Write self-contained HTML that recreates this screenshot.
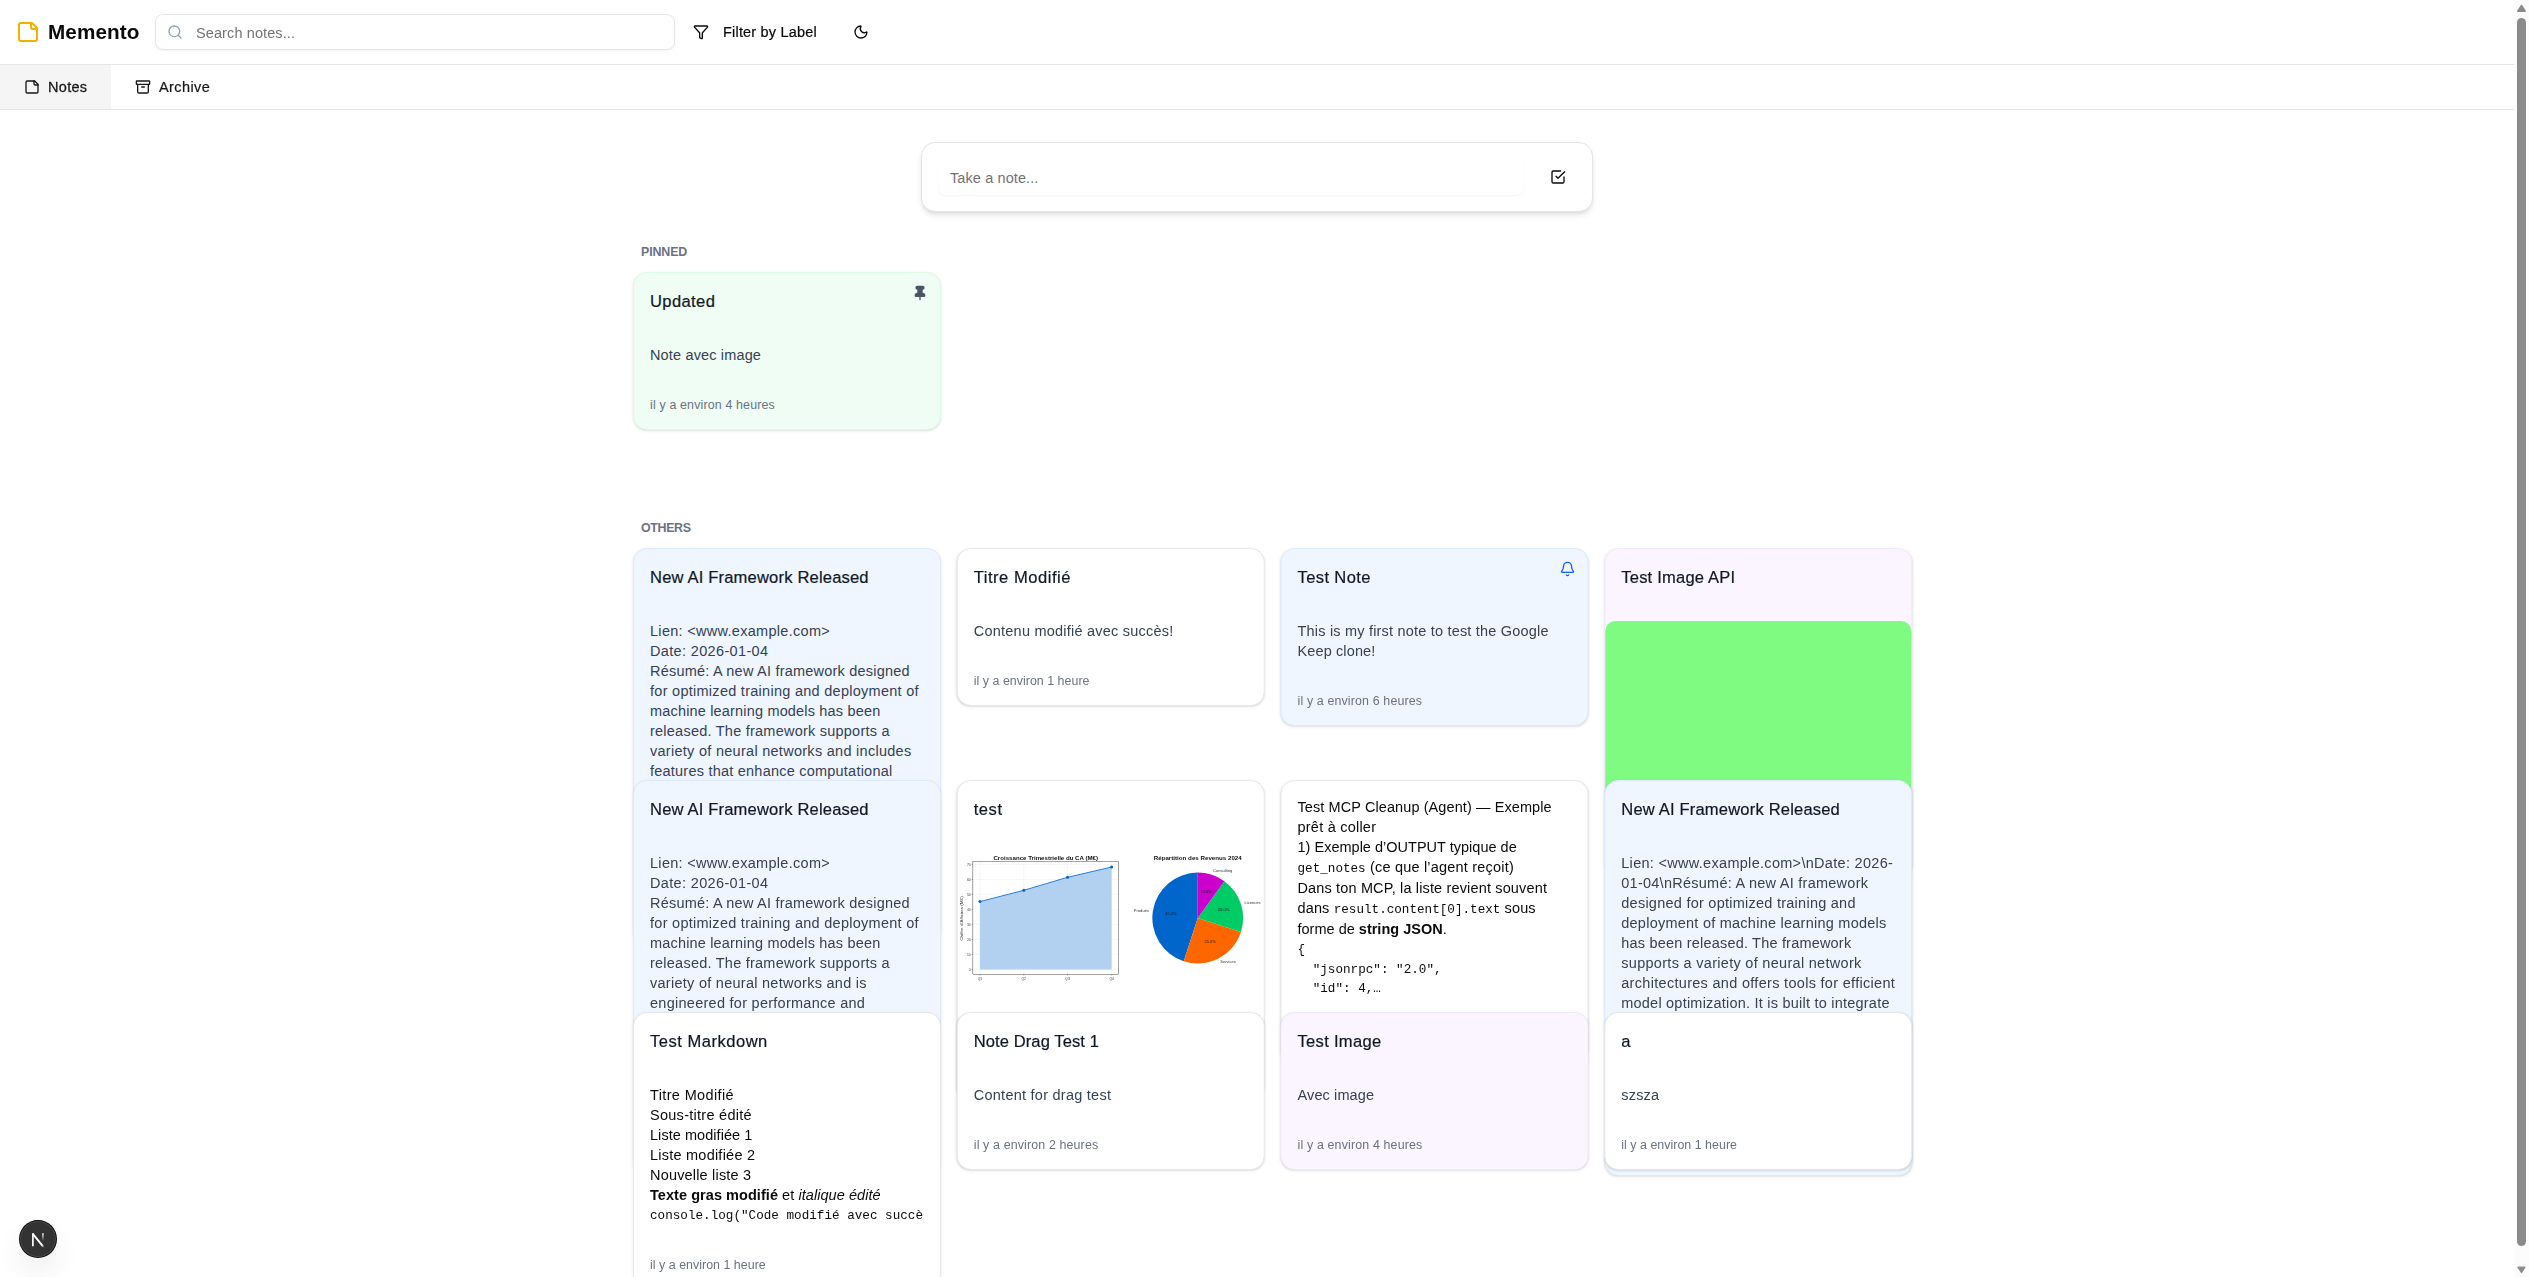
<!DOCTYPE html>
<html><head><meta charset="utf-8"><title>Memento</title><style>
*{box-sizing:border-box;margin:0;padding:0}
html,body{width:2529px;height:1277px;overflow:hidden;background:#fff}
body{position:relative;font-family:"Liberation Sans",sans-serif;-webkit-font-smoothing:antialiased}
#root{position:absolute;left:0;top:0;width:2529px;height:1277px;overflow:hidden}
.g{position:absolute;left:0;top:0;width:2529px;height:1277px;will-change:transform;pointer-events:none}
.a{position:absolute}
.t{position:absolute;white-space:pre;font-family:"Liberation Sans",sans-serif}
.cd{font-family:"Liberation Mono",monospace;font-size:12.64px;letter-spacing:0}
.card{position:absolute;border:1px solid #e5e7eb;border-radius:14px;background:#fff;box-shadow:0 1px 3px 0 rgba(0,0,0,.1),0 1px 2px -1px rgba(0,0,0,.1)}
.blue{background:#eff6ff;border-color:#dbeafe}
.green{background:#f0fdf4;border-color:#dcfce7}
.purple{background:#faf5ff;border-color:#f3e8ff}
svg.i{position:absolute;fill:none;stroke:currentColor;stroke-width:2;stroke-linecap:round;stroke-linejoin:round}
</style></head><body>
<div id="root">
<div class="a" style="left:921px;top:142px;width:672px;height:70px;border:1px solid #e5e5e5;border-radius:14px;background:#fff;box-shadow:0 4px 6px -1px rgba(0,0,0,.1),0 2px 4px -2px rgba(0,0,0,.1)"></div>
<div class="a" style="left:938px;top:159px;width:586px;height:36px;border-radius:8px;box-shadow:0 1px 2px 0 rgba(0,0,0,.05)"></div>
<div class="t" style="left:950px;top:168px;line-height:20px;font-size:14.49px;color:#737373;letter-spacing:0.110px;">Take a note...</div>
<svg class="i" style="left:1550px;top:169px;color:#0a0a0a;" width="16" height="16" viewBox="0 0 24 24"><path d="m9 11 3 3L22 4"/><path d="M21 12v7a2 2 0 0 1-2 2H5a2 2 0 0 1-2-2V5a2 2 0 0 1 2-2h11"/></svg>
<div class="t" style="left:641px;top:244px;line-height:16px;font-size:12.42px;color:#6a7282;letter-spacing:-0.109px;font-weight:700;">PINNED</div>
<div class="t" style="left:641px;top:520px;line-height:16px;font-size:12.42px;color:#6a7282;letter-spacing:-0.346px;font-weight:700;">OTHERS</div>
<div class="card green" style="left:633px;top:272px;width:308px;height:158px"></div>
<div class="t" style="left:650px;top:290px;line-height:24px;font-size:16.56px;color:#101828;letter-spacing:0.391px;-webkit-text-stroke:0.21px #101828;">Updated</div>
<div class="t" style="left:650px;top:345px;line-height:20px;font-size:14.49px;color:#364153;letter-spacing:0.160px;">Note avec image</div>
<div class="t" style="left:650px;top:397px;line-height:16px;font-size:12.42px;color:#6a7282;letter-spacing:0.154px;">il y a environ 4 heures</div>
<svg class="i" style="left:912px;top:285px;color:#4a5565;" width="16" height="16" viewBox="0 0 24 24"><path d="M12 17v5"/><path fill="currentColor" d="M9 10.76a2 2 0 0 1-1.11 1.79l-1.78.9A2 2 0 0 0 5 15.24V16a1 1 0 0 0 1 1h12a1 1 0 0 0 1-1v-.76a2 2 0 0 0-1.11-1.79l-1.78-.9A2 2 0 0 1 15 10.76V7a1 1 0 0 1 1-1 2 2 0 0 0 0-4H8a2 2 0 0 0 0 4 1 1 0 0 1 1 1z"/></svg>
<div class="card blue" style="left:633px;top:548px;width:308px;height:396px"></div>
<div class="t" style="left:650px;top:566px;line-height:24px;font-size:16.56px;color:#101828;letter-spacing:0.178px;-webkit-text-stroke:0.21px #101828;">New AI Framework Released</div>
<div class="t" style="left:650px;top:621px;line-height:20px;font-size:14.49px;color:#364153;letter-spacing:0.302px;">Lien: &lt;www.example.com&gt;</div>
<div class="t" style="left:650px;top:641px;line-height:20px;font-size:14.49px;color:#364153;letter-spacing:0.354px;">Date: 2026-01-04</div>
<div class="t" style="left:650px;top:661px;line-height:20px;font-size:14.49px;color:#364153;letter-spacing:0.225px;">Résumé: A new AI framework designed</div>
<div class="t" style="left:650px;top:681px;line-height:20px;font-size:14.49px;color:#364153;letter-spacing:0.280px;">for optimized training and deployment of</div>
<div class="t" style="left:650px;top:701px;line-height:20px;font-size:14.49px;color:#364153;letter-spacing:0.180px;">machine learning models has been</div>
<div class="t" style="left:650px;top:721px;line-height:20px;font-size:14.49px;color:#364153;letter-spacing:0.241px;">released. The framework supports a</div>
<div class="t" style="left:650px;top:741px;line-height:20px;font-size:14.49px;color:#364153;letter-spacing:0.284px;">variety of neural networks and includes</div>
<div class="t" style="left:650px;top:761px;line-height:20px;font-size:14.49px;color:#364153;letter-spacing:0.231px;">features that enhance computational</div>
<div class="g">
<div class="a" style="left:0;top:0;width:2514px;height:64px;background:#fff"></div>
<div class="a" style="left:0;top:64px;width:2514px;height:1px;background:#e5e5e5"></div>
<svg class="i" style="left:16px;top:20px;color:#f0b100;" width="24" height="24" viewBox="0 0 24 24"><path d="M16 3H5a2 2 0 0 0-2 2v14a2 2 0 0 0 2 2h14a2 2 0 0 0 2-2V8Z"/><path d="M15 3v4a2 2 0 0 0 2 2h4"/></svg>
<div class="t" style="left:48px;top:18px;line-height:28px;font-size:20.7px;color:#0a0a0a;letter-spacing:0.083px;font-weight:700;">Memento</div>
<div class="a" style="left:155px;top:14px;width:520px;height:36px;border:1px solid #e5e5e5;border-radius:8px;box-shadow:0 1px 2px 0 rgba(0,0,0,.05)"></div>
<svg class="i" style="left:167px;top:24px;color:#90a1b9;" width="16" height="16" viewBox="0 0 24 24"><circle cx="11" cy="11" r="8"/><path d="m21 21-4.3-4.3"/></svg>
<div class="t" style="left:196px;top:23px;line-height:20px;font-size:14.49px;color:#737373;letter-spacing:0.115px;">Search notes...</div>
<svg class="i" style="left:693px;top:24px;color:#0a0a0a;" width="16" height="16" viewBox="0 0 24 24"><path d="M10 20a1 1 0 0 0 .553.895l2 1A1 1 0 0 0 14 21v-7a2 2 0 0 1 .517-1.341L21.74 4.67A1 1 0 0 0 21 3H3a1 1 0 0 0-.742 1.67l7.225 7.989A2 2 0 0 1 10 14z"/></svg>
<div class="t" style="left:723px;top:22px;line-height:20px;font-size:14.49px;color:#0a0a0a;letter-spacing:0.198px;-webkit-text-stroke:0.21px #0a0a0a;">Filter by Label</div>
<svg class="i" style="left:853px;top:24px;color:#0a0a0a;" width="16" height="16" viewBox="0 0 24 24"><path d="M20.985 12.486a9 9 0 1 1-9.473-9.472c.405-.022.617.46.402.803a6 6 0 0 0 8.268 8.268c.344-.215.825-.004.803.401"/></svg>
<div class="a" style="left:0;top:65px;width:111px;height:44px;background:#f5f5f5"></div>
<div class="a" style="left:0;top:109px;width:2514px;height:1px;background:#e5e5e5"></div>
<svg class="i" style="left:24px;top:79px;color:#171717;" width="16" height="16" viewBox="0 0 24 24"><path d="M16 3H5a2 2 0 0 0-2 2v14a2 2 0 0 0 2 2h14a2 2 0 0 0 2-2V8Z"/><path d="M15 3v4a2 2 0 0 0 2 2h4"/></svg>
<div class="t" style="left:48px;top:77px;line-height:20px;font-size:14.49px;color:#171717;letter-spacing:0.319px;-webkit-text-stroke:0.27px #171717;">Notes</div>
<svg class="i" style="left:135px;top:79px;color:#171717;" width="16" height="16" viewBox="0 0 24 24"><rect width="20" height="5" x="2" y="3" rx="1"/><path d="M4 8v11a2 2 0 0 0 2 2h12a2 2 0 0 0 2-2V8"/><path d="M10 12h4"/></svg>
<div class="t" style="left:159px;top:77px;line-height:20px;font-size:14.49px;color:#171717;letter-spacing:0.400px;-webkit-text-stroke:0.22px #171717;">Archive</div>
</div>
<div class="g" style="transform:translateX(0px)">
<div class="card blue" style="left:633px;top:780px;width:308px;height:396px"></div>
<div class="t" style="left:650px;top:798px;line-height:24px;font-size:16.56px;color:#101828;letter-spacing:0.178px;-webkit-text-stroke:0.21px #101828;">New AI Framework Released</div>
<div class="t" style="left:650px;top:853px;line-height:20px;font-size:14.49px;color:#364153;letter-spacing:0.302px;">Lien: &lt;www.example.com&gt;</div>
<div class="t" style="left:650px;top:873px;line-height:20px;font-size:14.49px;color:#364153;letter-spacing:0.354px;">Date: 2026-01-04</div>
<div class="t" style="left:650px;top:893px;line-height:20px;font-size:14.49px;color:#364153;letter-spacing:0.225px;">Résumé: A new AI framework designed</div>
<div class="t" style="left:650px;top:913px;line-height:20px;font-size:14.49px;color:#364153;letter-spacing:0.280px;">for optimized training and deployment of</div>
<div class="t" style="left:650px;top:933px;line-height:20px;font-size:14.49px;color:#364153;letter-spacing:0.180px;">machine learning models has been</div>
<div class="t" style="left:650px;top:953px;line-height:20px;font-size:14.49px;color:#364153;letter-spacing:0.241px;">released. The framework supports a</div>
<div class="t" style="left:650px;top:973px;line-height:20px;font-size:14.49px;color:#364153;letter-spacing:0.275px;">variety of neural networks and is</div>
<div class="t" style="left:650px;top:993px;line-height:20px;font-size:14.49px;color:#364153;letter-spacing:0.274px;">engineered for performance and</div>
<div class="card " style="left:633px;top:1012px;width:308px;height:300px"></div>
<div class="t" style="left:650px;top:1030px;line-height:24px;font-size:16.56px;color:#101828;letter-spacing:0.502px;-webkit-text-stroke:0.21px #101828;">Test Markdown</div>
<div class="t" style="left:650px;top:1085px;line-height:20px;font-size:14.49px;color:#0a0a0a;letter-spacing:0.364px;">Titre Modifié</div>
<div class="t" style="left:650px;top:1105px;line-height:20px;font-size:14.49px;color:#0a0a0a;letter-spacing:0.280px;">Sous-titre édité</div>
<div class="t" style="left:650px;top:1125px;line-height:20px;font-size:14.49px;color:#0a0a0a;letter-spacing:0.059px;">Liste modifiée 1</div>
<div class="t" style="left:650px;top:1145px;line-height:20px;font-size:14.49px;color:#0a0a0a;letter-spacing:0.236px;">Liste modifiée 2</div>
<div class="t" style="left:650px;top:1165px;line-height:20px;font-size:14.49px;color:#0a0a0a;letter-spacing:0.188px;">Nouvelle liste 3</div>
<div class="t" style="left:650px;top:1185px;line-height:20px;font-size:14.49px;color:#0a0a0a;letter-spacing:0.062px;"><b>Texte gras modifié</b> et <i>italique édité</i></div>
<div class="t" style="left:650px;top:1204px;line-height:20px;font-size:14.49px;color:#0a0a0a;letter-spacing:0.000px;width:274px;overflow:hidden;"><span class="cd" style=letter-spacing:0.006px>console.log(&quot;Code modifié avec succès!&quot;);</span></div>
<div class="t" style="left:650px;top:1257px;line-height:16px;font-size:12.42px;color:#6a7282;letter-spacing:0.025px;">il y a environ 1 heure</div>
</div>
<div class="g" style="transform:translateX(-0.25px)">
<div class="card " style="left:957px;top:548px;width:308px;height:158px"></div>
<div class="t" style="left:974px;top:566px;line-height:24px;font-size:16.56px;color:#101828;letter-spacing:0.522px;-webkit-text-stroke:0.21px #101828;">Titre Modifié</div>
<div class="t" style="left:974px;top:621px;line-height:20px;font-size:14.49px;color:#364153;letter-spacing:0.237px;">Contenu modifié avec succès!</div>
<div class="t" style="left:974px;top:673px;line-height:16px;font-size:12.42px;color:#6a7282;letter-spacing:0.025px;">il y a environ 1 heure</div>
<div class="card " style="left:957px;top:780px;width:308px;height:320px"></div>
<div class="t" style="left:974px;top:798px;line-height:24px;font-size:16.56px;color:#101828;letter-spacing:0.520px;-webkit-text-stroke:0.21px #101828;">test</div>
<svg class="a" style="left:957px;top:780px;filter:blur(.3px)" width="308" height="320" viewBox="957 780 308 320" font-family="Liberation Sans, sans-serif"><line x1="973.1" x2="1118.6" y1="969.4" y2="969.4" stroke="#e9e9e9" stroke-width=".4"/><line x1="971.9" x2="973.1" y1="969.4" y2="969.4" stroke="#333" stroke-width=".4"/><text x="970.9" y="970.6" font-size="3.3" text-anchor="end" fill="#333">0</text><line x1="973.1" x2="1118.6" y1="954.4" y2="954.4" stroke="#e9e9e9" stroke-width=".4"/><line x1="971.9" x2="973.1" y1="954.4" y2="954.4" stroke="#333" stroke-width=".4"/><text x="970.9" y="955.6" font-size="3.3" text-anchor="end" fill="#333">10</text><line x1="973.1" x2="1118.6" y1="939.4" y2="939.4" stroke="#e9e9e9" stroke-width=".4"/><line x1="971.9" x2="973.1" y1="939.4" y2="939.4" stroke="#333" stroke-width=".4"/><text x="970.9" y="940.6" font-size="3.3" text-anchor="end" fill="#333">20</text><line x1="973.1" x2="1118.6" y1="924.4" y2="924.4" stroke="#e9e9e9" stroke-width=".4"/><line x1="971.9" x2="973.1" y1="924.4" y2="924.4" stroke="#333" stroke-width=".4"/><text x="970.9" y="925.6" font-size="3.3" text-anchor="end" fill="#333">30</text><line x1="973.1" x2="1118.6" y1="909.4" y2="909.4" stroke="#e9e9e9" stroke-width=".4"/><line x1="971.9" x2="973.1" y1="909.4" y2="909.4" stroke="#333" stroke-width=".4"/><text x="970.9" y="910.6" font-size="3.3" text-anchor="end" fill="#333">40</text><line x1="973.1" x2="1118.6" y1="894.4" y2="894.4" stroke="#e9e9e9" stroke-width=".4"/><line x1="971.9" x2="973.1" y1="894.4" y2="894.4" stroke="#333" stroke-width=".4"/><text x="970.9" y="895.6" font-size="3.3" text-anchor="end" fill="#333">50</text><line x1="973.1" x2="1118.6" y1="879.4" y2="879.4" stroke="#e9e9e9" stroke-width=".4"/><line x1="971.9" x2="973.1" y1="879.4" y2="879.4" stroke="#333" stroke-width=".4"/><text x="970.9" y="880.6" font-size="3.3" text-anchor="end" fill="#333">60</text><line x1="973.1" x2="1118.6" y1="864.4" y2="864.4" stroke="#e9e9e9" stroke-width=".4"/><line x1="971.9" x2="973.1" y1="864.4" y2="864.4" stroke="#333" stroke-width=".4"/><text x="970.9" y="865.6" font-size="3.3" text-anchor="end" fill="#333">70</text><line x1="980.2" x2="980.2" y1="861.5" y2="974.3" stroke="#e9e9e9" stroke-width=".4"/><line x1="980.2" x2="980.2" y1="974.3" y2="975.5" stroke="#333" stroke-width=".4"/><text x="980.2" y="979.7" font-size="3.3" text-anchor="middle" fill="#333">Q1</text><line x1="1024.0" x2="1024.0" y1="861.5" y2="974.3" stroke="#e9e9e9" stroke-width=".4"/><line x1="1024.0" x2="1024.0" y1="974.3" y2="975.5" stroke="#333" stroke-width=".4"/><text x="1024.0" y="979.7" font-size="3.3" text-anchor="middle" fill="#333">Q2</text><line x1="1067.8" x2="1067.8" y1="861.5" y2="974.3" stroke="#e9e9e9" stroke-width=".4"/><line x1="1067.8" x2="1067.8" y1="974.3" y2="975.5" stroke="#333" stroke-width=".4"/><text x="1067.8" y="979.7" font-size="3.3" text-anchor="middle" fill="#333">Q3</text><line x1="1111.9" x2="1111.9" y1="861.5" y2="974.3" stroke="#e9e9e9" stroke-width=".4"/><line x1="1111.9" x2="1111.9" y1="974.3" y2="975.5" stroke="#333" stroke-width=".4"/><text x="1111.9" y="979.7" font-size="3.3" text-anchor="middle" fill="#333">Q4</text><polygon points="980.2,969.4 980.2,901.6 1024.0,890.3 1067.8,877.3 1111.9,867.0 1111.9,969.4" fill="#b2d1f0"/><polyline points="980.2,901.6 1024.0,890.3 1067.8,877.3 1111.9,867.0" fill="none" stroke="#0066cc" stroke-width=".8"/><circle cx="980.2" cy="901.6" r="1.5" fill="#0066cc"/><circle cx="1024.0" cy="890.3" r="1.5" fill="#0066cc"/><circle cx="1067.8" cy="877.3" r="1.5" fill="#0066cc"/><circle cx="1111.9" cy="867.0" r="1.5" fill="#0066cc"/><rect x="973.1" y="861.5" width="145.5" height="112.8" fill="none" stroke="#333" stroke-width=".45"/><text x="1046" y="859.6" font-size="5" font-weight="700" text-anchor="middle" fill="#111" textLength="104.6" lengthAdjust="spacingAndGlyphs">Croissance Trimestrielle du CA (M€)</text><text transform="translate(963.4 918.5) rotate(-90)" font-size="3.5" text-anchor="middle" fill="#333" textLength="44.6" lengthAdjust="spacingAndGlyphs">Chiffre d’Affaires (M€)</text><path d="M1198.0 918.0 L1198.00 872.60 A45.4 45.4 0 0 0 1183.97 961.18 Z" fill="#0066cc"/><path d="M1198.0 918.0 L1183.97 961.18 A45.4 45.4 0 0 0 1241.18 932.03 Z" fill="#ff6600"/><path d="M1198.0 918.0 L1241.18 932.03 A45.4 45.4 0 0 0 1224.69 881.27 Z" fill="#00cc66"/><path d="M1198.0 918.0 L1224.69 881.27 A45.4 45.4 0 0 0 1198.00 872.60 Z" fill="#cc00cc"/><text x="1198" y="859.6" font-size="5" font-weight="700" text-anchor="middle" fill="#111" textLength="88" lengthAdjust="spacingAndGlyphs">Répartition des Revenus 2024</text><text x="1223" y="871.8000000000001" font-size="3.5" text-anchor="middle" fill="#333" textLength="19.3" lengthAdjust="spacingAndGlyphs">Consulting</text><text x="1252.8" y="903.8000000000001" font-size="3.5" text-anchor="middle" fill="#333" textLength="16.0" lengthAdjust="spacingAndGlyphs">Licences</text><text x="1141.5" y="911.5" font-size="3.5" text-anchor="middle" fill="#333" textLength="15.0" lengthAdjust="spacingAndGlyphs">Produits</text><text x="1228.2" y="962.9000000000001" font-size="3.5" text-anchor="middle" fill="#333" textLength="15.5" lengthAdjust="spacingAndGlyphs">Services</text><text x="1171.2" y="914.8000000000001" font-size="3.5" text-anchor="middle" fill="#222" textLength="11.5" lengthAdjust="spacingAndGlyphs">45.0%</text><text x="1210.4" y="943.1" font-size="3.5" text-anchor="middle" fill="#222" textLength="11.5" lengthAdjust="spacingAndGlyphs">25.0%</text><text x="1223.8" y="910.8000000000001" font-size="3.5" text-anchor="middle" fill="#222" textLength="11.5" lengthAdjust="spacingAndGlyphs">20.0%</text><text x="1206.2" y="893.2" font-size="3.5" text-anchor="middle" fill="#222" textLength="11.5" lengthAdjust="spacingAndGlyphs">10.0%</text></svg>
<div class="card " style="left:957px;top:1012px;width:308px;height:158px"></div>
<div class="t" style="left:974px;top:1030px;line-height:24px;font-size:16.56px;color:#101828;letter-spacing:0.085px;-webkit-text-stroke:0.21px #101828;">Note Drag Test 1</div>
<div class="t" style="left:974px;top:1085px;line-height:20px;font-size:14.49px;color:#364153;letter-spacing:0.258px;">Content for drag test</div>
<div class="t" style="left:974px;top:1137px;line-height:16px;font-size:12.42px;color:#6a7282;letter-spacing:0.136px;">il y a environ 2 heures</div>
</div>
<div class="g" style="transform:translateX(-0.5px)">
<div class="card blue" style="left:1281px;top:548px;width:308px;height:178px"></div>
<div class="t" style="left:1298px;top:566px;line-height:24px;font-size:16.56px;color:#101828;letter-spacing:0.385px;-webkit-text-stroke:0.21px #101828;">Test Note</div>
<div class="t" style="left:1298px;top:621px;line-height:20px;font-size:14.49px;color:#364153;letter-spacing:0.202px;">This is my first note to test the Google</div>
<div class="t" style="left:1298px;top:641px;line-height:20px;font-size:14.49px;color:#364153;letter-spacing:0.129px;">Keep clone!</div>
<div class="t" style="left:1298px;top:693px;line-height:16px;font-size:12.42px;color:#6a7282;letter-spacing:0.141px;">il y a environ 6 heures</div>
<svg class="i" style="left:1560px;top:561px;color:#155dfc;" width="16" height="16" viewBox="0 0 24 24"><path d="M10.268 21a2 2 0 0 0 3.464 0"/><path d="M3.262 15.326A1 1 0 0 0 4 17h16a1 1 0 0 0 .74-1.673C19.41 13.956 18 12.499 18 8A6 6 0 0 0 6 8c0 4.499-1.411 5.956-2.738 7.326"/></svg>
<div class="card " style="left:1281px;top:780px;width:308px;height:284px"></div>
<div class="t" style="left:1298px;top:797px;line-height:20px;font-size:14.49px;color:#0a0a0a;letter-spacing:0.098px;">Test MCP Cleanup (Agent) — Exemple</div>
<div class="t" style="left:1298px;top:817px;line-height:20px;font-size:14.49px;color:#0a0a0a;letter-spacing:0.232px;">prêt à coller</div>
<div class="t" style="left:1298px;top:837px;line-height:20px;font-size:14.49px;color:#0a0a0a;letter-spacing:0.019px;">1) Exemple d’OUTPUT typique de</div>
<div class="t" style="left:1298px;top:857px;line-height:20px;font-size:14.49px;color:#0a0a0a;letter-spacing:0.209px;"><span class="cd">get_notes</span> (ce que l’agent reçoit)</div>
<div class="t" style="left:1298px;top:878px;line-height:20px;font-size:14.49px;color:#0a0a0a;letter-spacing:0.155px;">Dans ton MCP, la liste revient souvent</div>
<div class="t" style="left:1298px;top:898px;line-height:20px;font-size:14.49px;color:#0a0a0a;letter-spacing:0.150px;">dans <span class="cd">result.content[0].text</span> sous</div>
<div class="t" style="left:1298px;top:919px;line-height:20px;font-size:14.49px;color:#0a0a0a;letter-spacing:0.013px;">forme de <b>string JSON</b>.</div>
<div class="t" style="left:1298px;top:938px;line-height:20px;font-size:14.49px;color:#0a0a0a;letter-spacing:0.000px;"><span class="cd" style=letter-spacing:0.016px>{</span></div>
<div class="t" style="left:1298px;top:958px;line-height:20px;font-size:14.49px;color:#0a0a0a;letter-spacing:0.000px;"><span class="cd" style=letter-spacing:0.006px>  &quot;jsonrpc&quot;: &quot;2.0&quot;,</span></div>
<div class="t" style="left:1298px;top:977px;line-height:20px;font-size:14.49px;color:#0a0a0a;letter-spacing:0.000px;"><span class="cd" style=letter-spacing:0.006px>  &quot;id&quot;: 4,…</span></div>
<div class="card purple" style="left:1281px;top:1012px;width:308px;height:158px"></div>
<div class="t" style="left:1298px;top:1030px;line-height:24px;font-size:16.56px;color:#101828;letter-spacing:0.295px;-webkit-text-stroke:0.21px #101828;">Test Image</div>
<div class="t" style="left:1298px;top:1085px;line-height:20px;font-size:14.49px;color:#364153;letter-spacing:0.125px;">Avec image</div>
<div class="t" style="left:1298px;top:1137px;line-height:16px;font-size:12.42px;color:#6a7282;letter-spacing:0.154px;">il y a environ 4 heures</div>
</div>
<div class="g" style="transform:translateX(-0.75px)">
<div class="card purple" style="left:1605px;top:548px;width:308px;height:330px"><div style="position:absolute;left:0;top:72px;width:306px;height:230px;background:#7ffb82;border-radius:10px 10px 0 0"></div></div>
<div class="t" style="left:1622px;top:566px;line-height:24px;font-size:16.56px;color:#101828;letter-spacing:0.202px;-webkit-text-stroke:0.21px #101828;">Test Image API</div>
<div class="card blue" style="left:1605px;top:780px;width:308px;height:396px"></div>
<div class="t" style="left:1622px;top:798px;line-height:24px;font-size:16.56px;color:#101828;letter-spacing:0.178px;-webkit-text-stroke:0.21px #101828;">New AI Framework Released</div>
<div class="t" style="left:1622px;top:853px;line-height:20px;font-size:14.49px;color:#364153;letter-spacing:0.306px;">Lien: &lt;www.example.com&gt;\nDate: 2026-</div>
<div class="t" style="left:1622px;top:873px;line-height:20px;font-size:14.49px;color:#364153;letter-spacing:0.263px;">01-04\nRésumé: A new AI framework</div>
<div class="t" style="left:1622px;top:893px;line-height:20px;font-size:14.49px;color:#364153;letter-spacing:0.258px;">designed for optimized training and</div>
<div class="t" style="left:1622px;top:913px;line-height:20px;font-size:14.49px;color:#364153;letter-spacing:0.249px;">deployment of machine learning models</div>
<div class="t" style="left:1622px;top:933px;line-height:20px;font-size:14.49px;color:#364153;letter-spacing:0.204px;">has been released. The framework</div>
<div class="t" style="left:1622px;top:953px;line-height:20px;font-size:14.49px;color:#364153;letter-spacing:0.302px;">supports a variety of neural network</div>
<div class="t" style="left:1622px;top:973px;line-height:20px;font-size:14.49px;color:#364153;letter-spacing:0.308px;">architectures and offers tools for efficient</div>
<div class="t" style="left:1622px;top:993px;line-height:20px;font-size:14.49px;color:#364153;letter-spacing:0.227px;">model optimization. It is built to integrate</div>
<div class="card " style="left:1605px;top:1012px;width:308px;height:158px"></div>
<div class="t" style="left:1622px;top:1030px;line-height:24px;font-size:16.56px;color:#101828;letter-spacing:-0.109px;-webkit-text-stroke:0.21px #101828;">a</div>
<div class="t" style="left:1622px;top:1085px;line-height:20px;font-size:14.49px;color:#364153;letter-spacing:0.216px;">szsza</div>
<div class="t" style="left:1622px;top:1137px;line-height:16px;font-size:12.42px;color:#6a7282;letter-spacing:0.025px;">il y a environ 1 heure</div>
</div>
<div class="a" style="left:2514px;top:0;width:15px;height:1277px;background:#fcfcfc"></div>
<div class="a" style="left:2517px;top:18px;width:9px;height:1228px;border-radius:4.5px;background:#8b8b8b"></div>
<svg class="a" style="left:2514px;top:0" width="15" height="15" viewBox="0 0 15 15"><path d="M7.5 5.5 L11.2 11.2 L3.8 11.2 Z" fill="#8b8b8b" stroke="#8b8b8b" stroke-width="1.5" stroke-linejoin="round"/></svg>
<svg class="a" style="left:2514px;top:1262px" width="15" height="15" viewBox="0 0 15 15"><path d="M7.5 10.6 L11 5.2 L4 5.2 Z" fill="#8b8b8b" stroke="#8b8b8b" stroke-width="1.2" stroke-linejoin="round"/></svg>
<div class="a" style="left:20px;top:1221px;width:36px;height:36px;border-radius:50%;background:#333;box-shadow:0 0 0 1px #0a0a0a,inset 0 0 0 1px rgba(255,255,255,.10),0 16px 32px -8px rgba(0,0,0,.24)"></div>
<svg class="a" style="left:20px;top:1221px" width="36" height="36" viewBox="0 0 36 36"><defs><linearGradient id="ng1" gradientUnits="userSpaceOnUse" x1="18" y1="17" x2="24" y2="26"><stop offset="0" stop-color="#fff"/><stop offset=".75" stop-color="#fff"/><stop offset="1" stop-color="#fff" stop-opacity=".1"/></linearGradient><linearGradient id="ng2" gradientUnits="userSpaceOnUse" x1="22.8" y1="12" x2="22.8" y2="20"><stop offset="0" stop-color="#fff"/><stop offset="1" stop-color="#fff" stop-opacity="0"/></linearGradient></defs><path d="M12.9 12.2V25.2" stroke="#fff" stroke-width="1.7" fill="none"/><path d="M12.6 12.6L23.6 26.2" stroke="url(#ng1)" stroke-width="1.9" fill="none"/><path d="M22.9 12.2V20" stroke="url(#ng2)" stroke-width="1.6" fill="none"/></svg>
</div>
</body></html>
